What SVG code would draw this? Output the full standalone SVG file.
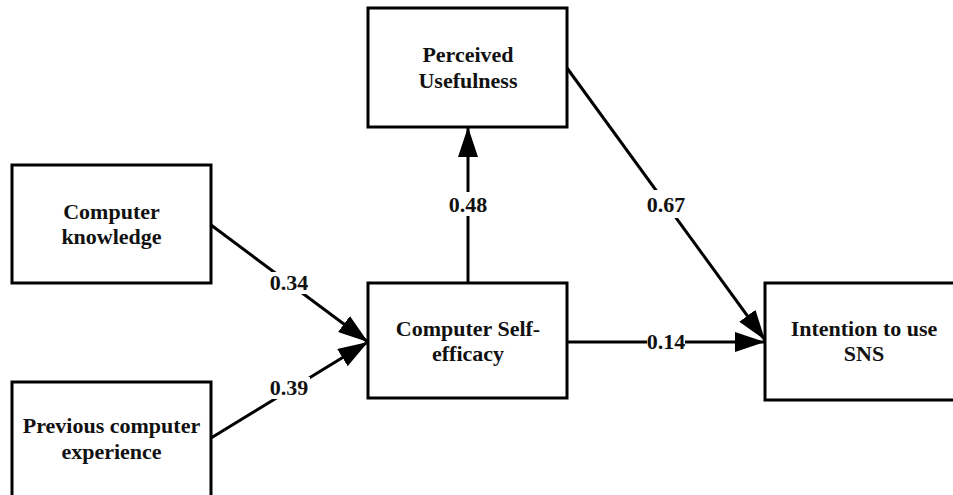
<svg xmlns="http://www.w3.org/2000/svg" width="953" height="495" viewBox="0 0 953 495">
<defs>
<style>
.box{fill:#fff;stroke:#000;stroke-width:3}
.t{font-family:"Liberation Serif","Times New Roman",serif;font-weight:bold;font-size:22px;text-anchor:middle;fill:#111}
.c{stroke:#000;stroke-width:3;fill:none}
.bg{fill:#fff}
</style>
<marker id="ah" markerUnits="userSpaceOnUse" markerWidth="30" markerHeight="20" refX="30" refY="10" orient="auto" viewBox="0 0 30 20">
<path d="M0,0 L30,10 L0,20 z" fill="#000"/>
</marker>
</defs>
<rect width="953" height="495" fill="#fff"/>
<g id="connectors">
<line class="c" x1="211" y1="225" x2="368" y2="342" marker-end="url(#ah)"/>
<line class="c" x1="211" y1="438" x2="368" y2="342" marker-end="url(#ah)"/>
<line class="c" x1="468" y1="283" x2="468" y2="127" marker-end="url(#ah)"/>
<line class="c" x1="567" y1="68" x2="765" y2="340" marker-end="url(#ah)"/>
<line class="c" x1="567" y1="342" x2="765" y2="342" marker-end="url(#ah)"/>
<rect class="bg" x="268" y="272" width="42" height="22"/>
<text class="t" x="289" y="290">0.34</text>
<rect class="bg" x="268" y="377" width="42" height="22"/>
<text class="t" x="289" y="395">0.39</text>
<rect class="bg" x="447" y="192" width="42" height="24"/>
<text class="t" x="468" y="212">0.48</text>
<rect class="bg" x="645" y="190" width="42" height="28"/>
<text class="t" x="666" y="212">0.67</text>
<rect class="bg" x="647" y="334" width="38" height="16"/>
<text class="t" x="666" y="349">0.14</text>
</g>
<g id="computer-knowledge">
<rect class="box" x="12" y="165" width="199" height="118"/>
<text class="t" x="111.5" y="219">Computer</text>
<text class="t" x="111.5" y="244">knowledge</text>
</g>
<g id="previous-experience">
<rect class="box" x="12" y="382" width="199" height="130"/>
<text class="t" x="111.5" y="433">Previous computer</text>
<text class="t" x="111.5" y="459">experience</text>
</g>
<g id="perceived-usefulness">
<rect class="box" x="368" y="8" width="199" height="119"/>
<text class="t" x="468" y="62">Perceived</text>
<text class="t" x="468" y="88">Usefulness</text>
</g>
<g id="computer-self-efficacy">
<rect class="box" x="368" y="283" width="199" height="115"/>
<text class="t" x="468" y="336">Computer Self-</text>
<text class="t" x="468" y="361">efficacy</text>
</g>
<g id="intention">
<rect class="box" x="765" y="283" width="210" height="117"/>
<text class="t" x="864" y="336">Intention to use</text>
<text class="t" x="864" y="361">SNS</text>
</g>
</svg>
